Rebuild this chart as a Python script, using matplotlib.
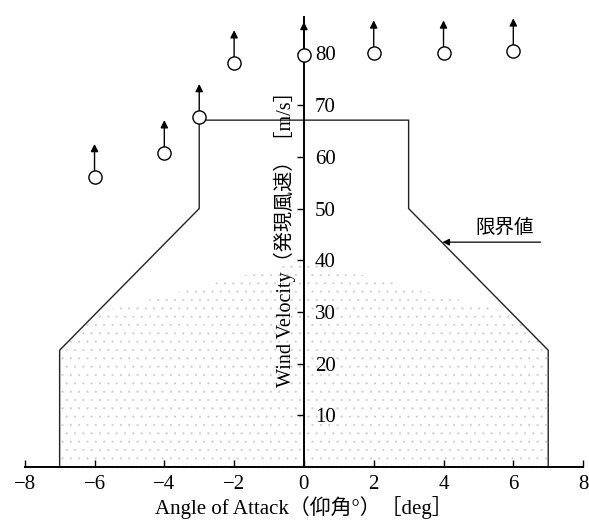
import numpy as np
import matplotlib
matplotlib.use("Agg")
import matplotlib.pyplot as plt
from matplotlib.patches import Polygon

plt.rcParams['font.family'] = ['Liberation Serif', 'Noto Sans CJK JP']
plt.rcParams['hatch.linewidth'] = 0.3

# measured points (lower bound, arrows mean "above this")
angles = [-6, -4, -3, -2, 0, 2, 4, 6]
velocity = [56.1, 60.7, 67.7, 78.1, 79.7, 80.0, 80.0, 80.4]

# limit line
limit_x = [-7, -7, -3, -3, 3, 3, 7, 7]
limit_y = [0, 22.6, 50, 67.1, 67.1, 50, 22.6, 0]

xticks = [-8, -6, -4, -2, 0, 2, 4, 6, 8]
yticks = [10, 20, 30, 40, 50, 60, 70, 80]

fig = plt.figure(figsize=(5.89, 5.23), dpi=100)
ax = fig.add_axes([0.042, 0.107, 0.948, 0.86])
ax.set_xlim(-8, 8)
ax.set_ylim(0, 87)

# light stipple in the lower part of the safe region
stip = Polygon(list(zip(limit_x, limit_y)), closed=True, facecolor='none',
               edgecolor='#cccccc', hatch='..', lw=0)
ax.add_patch(stip)
clip = Polygon([(-7, 0), (-7, 28), (0, 40), (7, 28), (7, 0)], closed=True,
               transform=ax.transData)
stip.set_clip_path(clip)

ax.plot(limit_x, limit_y, color='#222222', lw=1.0)

for x, v in zip(angles, velocity):
    ax.annotate('', xy=(x, v + 6.4), xytext=(x, v + 1.2),
                arrowprops=dict(arrowstyle='-|>', color='black', lw=1.0,
                                mutation_scale=11, shrinkA=0, shrinkB=0))
ax.plot(angles, velocity, 'o', ms=9.5, mfc='white', mec='black', mew=1.0,
        zorder=5)

ax.annotate('', xy=(3.97, 43.5), xytext=(6.78, 43.5),
            arrowprops=dict(arrowstyle='-|>', color='black', lw=0.9,
                            mutation_scale=10, shrinkA=0, shrinkB=0))
ax.text(5.75, 44.6, '限界値', fontsize=14, ha='center', va='bottom')

# axes: bottom at y=0, vertical axis through x=0
ax.spines['top'].set_visible(False)
ax.spines['left'].set_visible(False)
ax.spines['right'].set_position(('data', 0))
ax.spines['right'].set_linewidth(1.4)
ax.spines['bottom'].set_linewidth(1.4)
ax.yaxis.set_ticks_position('right')
ax.set_xticks(xticks)
ax.set_xticklabels(['\u22128', '\u22126', '\u22124', '\u22122', '0', '2', '4', '6', '8'])
ax.set_yticks(yticks)
ax.tick_params(axis='x', direction='in', length=5, width=1, labelsize=15, pad=6)
ax.tick_params(axis='y', direction='in', length=5, width=1, labelsize=15, pad=8)

ax.set_xlabel('Angle of Attack（仰角°）［deg］', fontsize=15, labelpad=1)
ax.text(-0.55, 45, 'Wind Velocity（発現風速）［m/s］', fontsize=14.5,
        rotation=90, ha='center', va='center')

fig.savefig('out.png', dpi=100)
